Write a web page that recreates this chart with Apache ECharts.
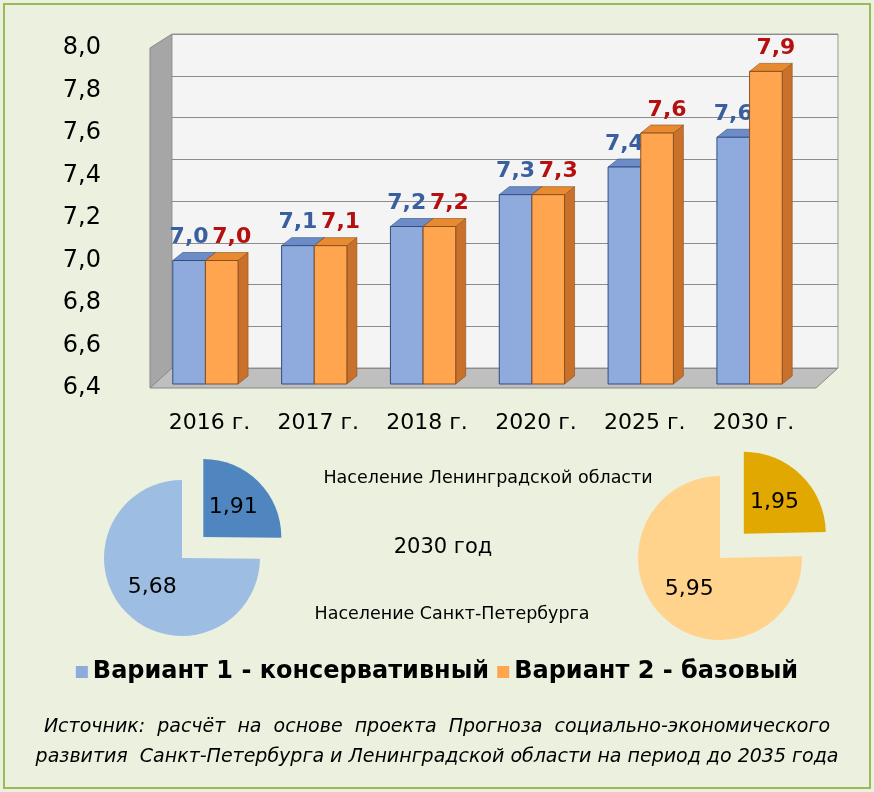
<!DOCTYPE html>
<html><head><meta charset="utf-8">
<script src="https://cdn.jsdelivr.net/npm/echarts@6/dist/echarts.min.js"></script>
<style>html,body{margin:0;padding:0;background:#fff}#c{width:874px;height:792px}</style>
</head><body><div id="c"></div>
<script>
var years = ['2016 г.', '2017 г.', '2018 г.', '2020 г.', '2025 г.', '2030 г.'];
var v1 = [7.0, 7.07, 7.16, 7.31, 7.44, 7.58];
var v1Labels = ['7,0', '7,1', '7,2', '7,3', '7,4', '7,6'];
var v2 = [7.0, 7.07, 7.16, 7.31, 7.6, 7.89];
var v2Labels = ['7,0', '7,1', '7,2', '7,3', '7,6', '7,9'];
var pieLeft = [{name: 'Ленинградская область', value: 1.91}, {name: 'Санкт-Петербург', value: 5.68}];
var pieRight = [{name: 'Ленинградская область', value: 1.95}, {name: 'Санкт-Петербург', value: 5.95}];
var FONT = 'DejaVu Sans';

var chart = echarts.init(document.getElementById('c'));
var D = 10, DY = 8;

function bar3d(i, labels, colors) {
  return function (params, api) {
    var idx = api.value(0), val = api.value(1);
    var top = api.coord([idx, val]), base = api.coord([idx, 6.4]);
    var band = api.size([1, 0])[0];
    var bw = band * 0.3;
    var x0 = top[0] - bw - 4 + i * bw;
    var y0 = top[1], y1 = base[1] - 4;
    return {type: 'group', children: [
      {type: 'polygon', shape: {points: [[x0 + bw, y0], [x0 + bw + D, y0 - DY], [x0 + bw + D, y1 - DY], [x0 + bw, y1]]},
        style: {fill: colors[2], stroke: colors[3], lineWidth: 0.6}},
      {type: 'polygon', shape: {points: [[x0, y0], [x0 + D, y0 - DY], [x0 + bw + D, y0 - DY], [x0 + bw, y0]]},
        style: {fill: colors[1], stroke: colors[3], lineWidth: 0.6}},
      {type: 'rect', shape: {x: x0, y: y0, width: bw, height: y1 - y0},
        style: {fill: colors[0], stroke: colors[3], lineWidth: 1}},
      {type: 'text', style: {text: labels[idx], x: x0 + bw / 2 + (i === 0 ? 0 : 10), y: y0 - DY - 4, align: 'center', verticalAlign: 'bottom',
        fill: i === 0 ? '#3a5f9f' : '#b50f0f', font: 'bold 22px "' + FONT + '"'}}
    ]};
  };
}

chart.setOption({
  backgroundColor: '#ebf1de',
  graphic: [
    {type: 'rect', shape: {x: 4, y: 4, width: 866, height: 784}, style: {fill: 'none', stroke: '#9bbb59', lineWidth: 2}},
    {type: 'polygon', z: -1, shape: {points: [[150, 48], [172, 34], [172, 370], [150, 388]]}, style: {fill: '#a6a6a6', stroke: '#888'}},
    {type: 'polygon', z: -1, shape: {points: [[150, 388], [172, 368], [838, 368], [816, 388]]}, style: {fill: '#bfbfbf', stroke: '#888'}},
    {type: 'text', style: {text: 'Население Ленинградской области', x: 488, y: 478, align: 'center', verticalAlign: 'middle', fill: '#000', font: '17.5px "' + FONT + '"'}},
    {type: 'text', style: {text: '2030 год', x: 443, y: 548, align: 'center', verticalAlign: 'middle', fill: '#000', font: '21px "' + FONT + '"'}},
    {type: 'text', style: {text: 'Население Санкт-Петербурга', x: 452, y: 614, align: 'center', verticalAlign: 'middle', fill: '#000', font: '17.5px "' + FONT + '"'}},
    {type: 'text', style: {text: 'Источник:  расчёт  на  основе  проекта  Прогноза  социально-экономического', x: 437, y: 727, align: 'center', verticalAlign: 'middle', fill: '#000', font: 'italic 19px "' + FONT + '"'}},
    {type: 'text', style: {text: 'развития  Санкт-Петербурга и Ленинградской области на период до 2035 года', x: 437, y: 757, align: 'center', verticalAlign: 'middle', fill: '#000', font: 'italic 19px "' + FONT + '"'}}
  ],
  legend: {
    bottom: 103, left: 'center', itemWidth: 12, itemHeight: 12, itemGap: 8, icon: 'rect',
    data: ['Вариант 1 - консервативный', 'Вариант 2 - базовый'],
    textStyle: {fontFamily: FONT, fontSize: 24, fontWeight: 'bold', color: '#000'}
  },
  grid: [
    {left: 155, right: 66, top: 48, bottom: 404},
    {left: 172, right: 36, top: 34, bottom: 424, show: true, backgroundColor: '#f4f4f4', borderColor: '#999'}
  ],
  xAxis: [
    {gridIndex: 0, type: 'category', data: years, axisLine: {show: false}, axisTick: {show: false},
      axisLabel: {fontFamily: FONT, fontSize: 22, color: '#000', margin: 24}},
    {gridIndex: 1, type: 'category', data: years, show: false}
  ],
  yAxis: [
    {gridIndex: 0, min: 6.4, max: 8.0, interval: 0.2, axisLine: {show: false}, axisTick: {show: false}, splitLine: {show: false},
      axisLabel: {fontFamily: FONT, fontSize: 24, color: '#000', margin: 54, formatter: function (v) { return v.toFixed(1).replace('.', ','); }}},
    {gridIndex: 1, min: 6.4, max: 8.0, interval: 0.2, axisLabel: {show: false}, axisLine: {show: false}, axisTick: {show: false},
      splitLine: {lineStyle: {color: '#8c8c8c'}}}
  ],
  series: [
    {name: 'Вариант 1 - консервативный', type: 'custom', xAxisIndex: 0, yAxisIndex: 0, z: 5, itemStyle: {color: '#8faadc'},
      renderItem: bar3d(0, v1Labels, ['#8faadc', '#6d8cc7', '#5a79b5', '#2f4f7f']), data: v1.map(function (v, k) { return [k, v]; })},
    {name: 'Вариант 2 - базовый', type: 'custom', xAxisIndex: 0, yAxisIndex: 0, z: 5, itemStyle: {color: '#ffa54f'},
      renderItem: bar3d(1, v2Labels, ['#ffa54f', '#e88a30', '#c9702a', '#8a5020']), data: v2.map(function (v, k) { return [k, v]; })},
    {type: 'pie', center: [182, 558], radius: 78, startAngle: 90, selectedMode: 'single', selectedOffset: 30,
      label: {position: 'inside', fontFamily: FONT, fontSize: 22, color: '#000', formatter: function (p) { return p.value.toFixed(2).replace('.', ','); }},
      labelLine: {show: false}, silent: true,
      data: [
        {name: pieLeft[0].name, value: pieLeft[0].value, selected: true, itemStyle: {color: '#4f86c0'}},
        {name: pieLeft[1].name, value: pieLeft[1].value, itemStyle: {color: '#9dbde3'}}
      ]},
    {type: 'pie', center: [720, 558], radius: 82, startAngle: 90, selectedMode: 'single', selectedOffset: 34,
      label: {position: 'inside', fontFamily: FONT, fontSize: 22, color: '#000', formatter: function (p) { return p.value.toFixed(2).replace('.', ','); }},
      labelLine: {show: false}, silent: true,
      data: [
        {name: pieRight[0].name, value: pieRight[0].value, selected: true, itemStyle: {color: '#e0a800'}},
        {name: pieRight[1].name, value: pieRight[1].value, itemStyle: {color: '#ffd38b'}}
      ]}
  ]
});
</script></body></html>
